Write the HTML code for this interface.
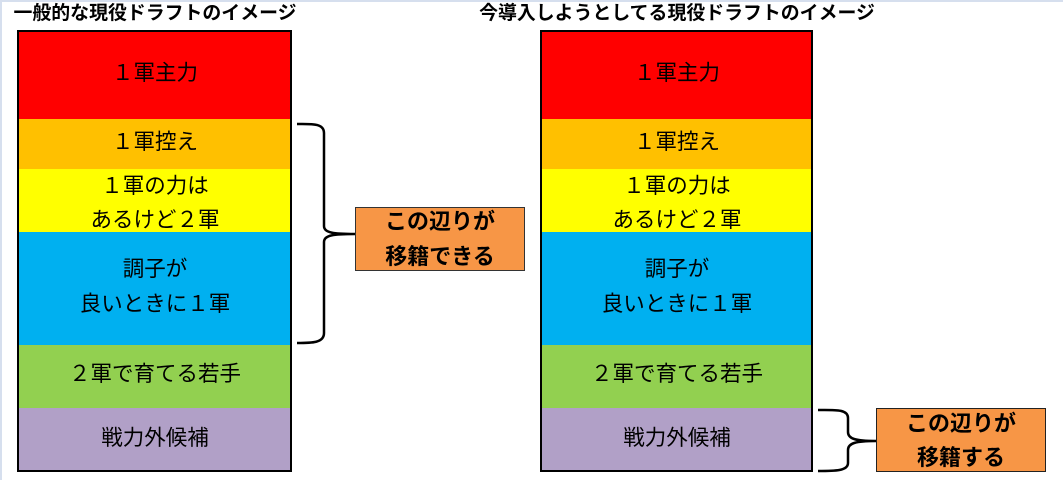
<!DOCTYPE html>
<html><head><meta charset="utf-8"><style>
html,body{margin:0;padding:0;background:#fff;width:1063px;height:480px;overflow:hidden}
svg{display:block}
text{font-family:"Liberation Sans","Noto Sans CJK JP",sans-serif;text-anchor:middle;fill:#000}
.t{font-size:21.500px}
.h{font-size:18.900px;font-weight:700}
.c{font-size:22px;font-weight:700}
</style></head><body>
<svg width="1063" height="480" viewBox="0 0 1063 480" xmlns="http://www.w3.org/2000/svg">
<rect x="0" y="0" width="1063" height="2" fill="#d6dfee"/>
<rect x="0" y="0" width="2" height="480" fill="#d6dfee"/>
<text class="h" x="155" y="19">一般的な現役ドラフトのイメージ</text>
<text class="h" x="677" y="19">今導入しようとしてる現役ドラフトのイメージ</text>

<g>
<rect x="18" y="31" width="272" height="88" fill="#ff0000"/>
<rect x="18" y="119" width="272" height="50" fill="#ffc000"/>
<rect x="18" y="169" width="272" height="63" fill="#ffff00"/>
<rect x="18" y="232" width="272" height="113" fill="#00b0f0"/>
<rect x="18" y="345" width="272" height="63" fill="#92d050"/>
<rect x="18" y="408" width="272" height="63" fill="#b1a0c7"/>
<rect x="18" y="31" width="273" height="440" fill="none" stroke="#000" stroke-width="2"/>
<text class="t" x="155" y="80">１軍主力</text>
<text class="t" x="155" y="149">１軍控え</text>
<text class="t" x="155" y="193">１軍の力は</text>
<text class="t" x="155" y="227">あるけど２軍</text>
<text class="t" x="155" y="276">調子が</text>
<text class="t" x="155" y="311">良いときに１軍</text>
<text class="t" x="155" y="381">２軍で育てる若手</text>
<text class="t" x="155" y="445">戦力外候補</text>
</g>

<g>
<rect x="541" y="31" width="271" height="88" fill="#ff0000"/>
<rect x="541" y="119" width="271" height="50" fill="#ffc000"/>
<rect x="541" y="169" width="271" height="63" fill="#ffff00"/>
<rect x="541" y="232" width="271" height="113" fill="#00b0f0"/>
<rect x="541" y="345" width="271" height="63" fill="#92d050"/>
<rect x="541" y="408" width="271" height="63" fill="#b1a0c7"/>
<rect x="541" y="31" width="271" height="440" fill="none" stroke="#000" stroke-width="2"/>
<text class="t" x="677" y="80">１軍主力</text>
<text class="t" x="677" y="149">１軍控え</text>
<text class="t" x="677" y="193">１軍の力は</text>
<text class="t" x="677" y="227">あるけど２軍</text>
<text class="t" x="677" y="276">調子が</text>
<text class="t" x="677" y="311">良いときに１軍</text>
<text class="t" x="677" y="381">２軍で育てる若手</text>
<text class="t" x="677" y="445">戦力外候補</text>
</g>

<path d="M297 124 C312 124 324 123 324 133 L324 226 C324 233 334 234 355 234 C334 234 324 235 324 242 L324 333 C324 343 312 343 297 343" fill="none" stroke="#000" stroke-width="2.500"/>
<rect x="355.500" y="207.500" width="169" height="63" fill="#f79646" stroke="#333" stroke-width="1"/>
<text class="c" x="440" y="229">この辺りが</text>
<text class="c" x="440" y="264">移籍できる</text>

<path d="M818 410 C835 410 848 409 848 418 L848 432 C848 439 856 441 876 441 C856 441 848 443 848 450 L848 463 C848 471 835 471 818 471" fill="none" stroke="#000" stroke-width="2.500"/>
<rect x="876.500" y="408.500" width="169" height="63" fill="#f79646" stroke="#222" stroke-width="1"/>
<text class="c" x="961" y="431">この辺りが</text>
<text class="c" x="961" y="465">移籍する</text>
</svg>
</body></html>
